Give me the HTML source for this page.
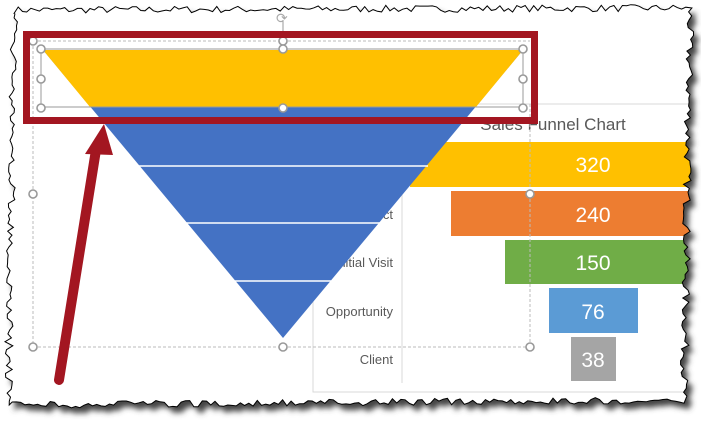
<!DOCTYPE html>
<html><head><meta charset="utf-8"><style>
html,body{margin:0;padding:0;background:#fff;width:701px;height:432px;overflow:hidden}
svg{display:block}
text{font-family:"Liberation Sans",sans-serif}
</style></head><body>
<svg id="s" width="701" height="432" viewBox="0 0 701 432" xmlns="http://www.w3.org/2000/svg">
<defs>
<filter id="sh" x="-5%" y="-5%" width="115%" height="115%"><feGaussianBlur stdDeviation="3"/></filter>
<clipPath id="cp"><path id="cpp" d=""/></clipPath>
</defs>
<path id="shadow" d="" fill="#444" filter="url(#sh)" transform="translate(5,6)"/>
<path id="paper" d="" fill="#fff"/>
<g clip-path="url(#cp)">
<!-- chart frame -->
<rect x="313" y="104" width="400" height="288" fill="none" stroke="#d9d9d9"/>
<line x1="402" y1="190" x2="402" y2="383" stroke="#d9d9d9"/>
<text x="553" y="130" font-size="17" fill="#595959" text-anchor="middle">Sales Funnel Chart</text>
<rect x="410" y="142" width="300" height="45" fill="#ffc000"/>
<rect x="451" y="191" width="260" height="45" fill="#ed7d31"/>
<rect x="505" y="240" width="210" height="44" fill="#70ad47"/>
<rect x="549" y="288" width="89" height="45" fill="#5b9bd5"/>
<rect x="571" y="337" width="45" height="44" fill="#a5a5a5"/>
<g font-size="21" fill="#fff" text-anchor="middle">
<text x="593" y="172">320</text><text x="593" y="222">240</text><text x="593" y="270">150</text><text x="593" y="319">76</text><text x="593" y="367">38</text>
</g>
<g font-size="13" fill="#595959" text-anchor="end">
<text x="393" y="219">Prospect</text><text x="393" y="267">Initial Visit</text><text x="393" y="316">Opportunity</text><text x="393" y="364">Client</text>
</g>
<!-- funnel -->
<polygon points="43,50 523,50 283,338" fill="#4472c4"/>
<polygon points="43,50 523,50 476,107 90,107" fill="#ffc000"/>
<g stroke="#fff" stroke-width="1.5">
<line x1="138" y1="166" x2="428" y2="166"/><line x1="186" y1="223" x2="380" y2="223"/><line x1="235" y1="281" x2="331" y2="281"/>
</g>
<!-- selection boxes -->
<g fill="none" stroke="#bbb" stroke-dasharray="3,2">
<line x1="33" y1="41" x2="33" y2="347"/><line x1="33" y1="347" x2="530" y2="347"/><line x1="530" y1="104" x2="530" y2="347"/><line x1="33" y1="41" x2="530" y2="41"/>
</g>
<rect x="41" y="49" width="482" height="58" fill="none" stroke="#999"/>
<line x1="283" y1="20" x2="283" y2="49" stroke="#999"/>
<text x="276" y="23" font-size="14" fill="#aaa">&#x27F3;</text>
<g fill="#fff" stroke="#999" stroke-width="1.6">
<circle cx="33" cy="41" r="4"/><circle cx="283" cy="41" r="4"/><circle cx="41" cy="49" r="4"/><circle cx="283" cy="49" r="4"/><circle cx="523" cy="49" r="4"/>
<circle cx="41" cy="79" r="4"/><circle cx="523" cy="79" r="4"/><circle cx="41" cy="108" r="4"/><circle cx="283" cy="108" r="4"/><circle cx="523" cy="108" r="4"/>
<circle cx="33" cy="194" r="4"/><circle cx="530" cy="194" r="4"/><circle cx="33" cy="347" r="4"/><circle cx="283" cy="347" r="4"/><circle cx="530" cy="347" r="4"/>
</g>
<!-- red highlight -->
<rect x="26.5" y="34.5" width="508" height="86" fill="none" stroke="#a31621" stroke-width="7"/>
<!-- arrow -->
<g filter="none">
<line x1="59" y1="380" x2="96" y2="150" stroke="#a31621" stroke-width="10" stroke-linecap="round"/>
<polygon points="104,124 85,154 113,155" fill="#a31621"/>
</g>
</g>
<path id="edge" d="" fill="none" stroke="#000" stroke-width="1"/>
</svg>
<script>
(function(){
var seed=7;function r(){seed=(seed*16807)%2147483647;return seed/2147483647;}
var pts=[];
function seg(x0,y0,x1,y1,n,amp){for(var i=0;i<n;i++){var t=i/n;var x=x0+(x1-x0)*t,y=y0+(y1-y0)*t;var dx=y1-y0,dy=x0-x1;var L=Math.hypot(dx,dy);var o=(r()-0.5)*2*amp;pts.push([x+dx/L*o,y+dy/L*o]);}}
seg(14,10,690,8,160,3.5);
seg(690,8,684,400,100,4);
seg(684,400,8,405,160,3.5);
seg(8,405,14,10,100,4);
var d="M"+pts.map(function(p){return p[0].toFixed(1)+","+p[1].toFixed(1)}).join(" L")+" Z";
["shadow","paper","edge","cpp"].forEach(function(id){document.getElementById(id).setAttribute("d",d);});
})();
</script>
</body></html>
